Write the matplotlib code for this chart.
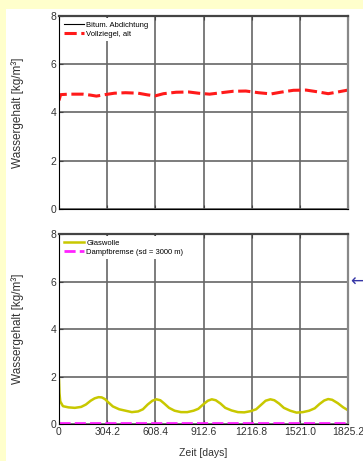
import matplotlib.pyplot as plt
from matplotlib.patches import Rectangle

# x axis
x_ticks = [0, 304.2, 608.4, 912.6, 1216.8, 1521.0, 1825.2]
x_labels = ["0", "304.2", "608.4", "912.6", "1216.8", "1521.0", "1825.2"]
y_ticks = [0, 2, 4, 6, 8]

# top panel
bitum_days = [0, 1825.2]
bitum_vals = [0.0, 0.0]
ziegel_days = [0, 10, 60, 150, 200, 236, 290, 350, 420, 500, 560, 608, 660, 740,
               820, 880, 951, 1000, 1100, 1180, 1260, 1340, 1400, 1480, 1560,
               1640, 1700, 1760, 1825]
ziegel_vals = [4.50, 4.74, 4.76, 4.76, 4.72, 4.68, 4.74, 4.80, 4.82, 4.80, 4.73,
               4.69, 4.78, 4.84, 4.85, 4.80, 4.76, 4.80, 4.88, 4.89, 4.82, 4.77,
               4.84, 4.92, 4.93, 4.85, 4.78, 4.85, 4.93]

# bottom panel
glas_days = [0, 3, 8, 25, 60, 100, 140, 170, 200, 225, 250, 270, 290, 310, 340,
             380, 420, 460, 500, 530, 560, 590, 615, 640, 665, 695, 730, 770,
             810, 850, 880, 910, 940, 965, 990, 1020, 1050, 1090, 1130, 1170,
             1210, 1245, 1275, 1305, 1335, 1360, 1390, 1420, 1460, 1500, 1540,
             1580, 1615, 1645, 1675, 1700, 1725, 1760, 1795, 1825]
glas_vals = [1.86, 1.30, 0.95, 0.75, 0.70, 0.68, 0.72, 0.82, 0.98, 1.08, 1.13,
             1.12, 1.05, 0.92, 0.74, 0.62, 0.56, 0.50, 0.53, 0.62, 0.82, 0.98,
             1.04, 1.00, 0.86, 0.68, 0.56, 0.50, 0.50, 0.56, 0.64, 0.82, 0.98,
             1.04, 1.00, 0.86, 0.68, 0.57, 0.50, 0.49, 0.54, 0.62, 0.80, 0.98,
             1.04, 1.00, 0.86, 0.68, 0.56, 0.48, 0.50, 0.56, 0.66, 0.84, 0.99,
             1.05, 1.02, 0.88, 0.70, 0.58]
bremse_days = [0, 1825.2]
bremse_vals = [0.05, 0.05]

plt.rcParams['font.family'] = ['Liberation Sans', 'DejaVu Sans']

fig = plt.figure(figsize=(3.63, 4.61), dpi=100, facecolor='#ffffcc')
fig.patches.append(Rectangle((6 / 363, 0), 1, (461 - 9) / 461, transform=fig.transFigure,
                             facecolor='white', edgecolor='none', zorder=-10))

ax1 = fig.add_axes([59 / 363, 1 - 209 / 461, 289 / 363, 193 / 461])
ax2 = fig.add_axes([59 / 363, 1 - 424 / 461, 289 / 363, 190 / 461])

ax1.plot(bitum_days, bitum_vals, color='black', lw=0.8, label='Bitum. Abdichtung')
ax1.plot(ziegel_days, ziegel_vals, color='#ff1a1a', lw=2.2, ls=(0, (4, 1.5)),
         label='Vollziegel, alt')
ax2.plot(glas_days, glas_vals, color='#c8c800', lw=1.8, label='Glaswolle')
ax2.plot(bremse_days, bremse_vals, color='#ff22ff', lw=2, ls=(0, (4, 1.5)),
         label='Dampfbremse (sd = 3000 m)')

for ax in (ax1, ax2):
    ax.set_xlim(0, 1825.2)
    ax.set_ylim(0, 8)
    ax.set_xticks(x_ticks)
    ax.set_yticks(y_ticks)
    ax.grid(True, color='#666666', lw=1.2)
    ax.set_axisbelow(True)
    ax.tick_params(direction='in', length=3, labelsize=7.5, labelcolor='#333333',
                   pad=2, top=True, color='#444444')
    ax.spines['top'].set_linewidth(1.6)
    ax.spines['right'].set_linewidth(1.6)
    ax.spines['top'].set_color('#444444')
    ax.spines['right'].set_color('#888888')
    ax.spines['left'].set_linewidth(0.8)
    ax.spines['bottom'].set_linewidth(0.8)
    ax.set_ylabel('Wassergehalt [kg/m³]', fontsize=8.5, color='#333333')
    ax.yaxis.set_label_coords(-0.12, 0.5)
    leg = ax.legend(loc='upper left', fontsize=5.5, frameon=True, framealpha=1,
                    edgecolor='white', fancybox=False, handlelength=2.6,
                    handletextpad=0.3, borderaxespad=0.3, labelspacing=0.2)
    leg.get_frame().set_linewidth(0)

ax1.set_xticklabels([])
ax2.set_xticklabels(x_labels)
ax2.set_xlabel('Zeit [days]', fontsize=7.5, color='#333333', labelpad=8)

fig.text(350 / 363, 1 - 282 / 461, '←', fontsize=12, color='#3636a6',
         family='DejaVu Sans', ha='left', va='center')

fig.savefig('out.png', dpi=100, facecolor=fig.get_facecolor())
